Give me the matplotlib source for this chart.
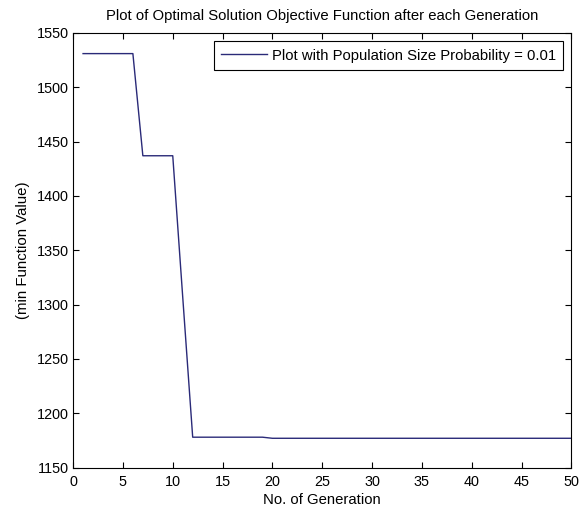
import matplotlib
matplotlib.use("Agg")
import matplotlib.pyplot as plt

generations = list(range(1, 51))
values = ([1531] * 6 + [1437] * 4 + [1307] + [1178] * 8 + [1177] * 31)

plt.rcParams['font.family'] = ['Liberation Sans', 'DejaVu Sans']
fig = plt.figure(figsize=(5.87, 5.15), dpi=100)
ax = fig.add_axes([0.1245, 0.092, 0.849, 0.844])
ax.plot(generations, values, color='#2a2a78', linewidth=1.0,
        label='Plot with Population Size Probability = 0.01')
ax.set_xlim(0, 50)
ax.set_ylim(1150, 1550)
ax.set_xticks(range(0, 51, 5))
ax.set_yticks(range(1150, 1551, 50))
ax.tick_params(axis='both', direction='in', top=True, right=True, labelsize=10.4, length=4)
ax.tick_params(axis='x', pad=5)
ax.tick_params(axis='y', pad=3)
ax.set_title('Plot of Optimal Solution Objective Function after each Generation', fontsize=10.7, pad=9)
ax.set_xlabel('No. of Generation', fontsize=10.7, labelpad=3)
ax.set_ylabel('(min Function Value)', fontsize=10.8, labelpad=5)
leg = ax.legend(loc='upper right', fontsize=10.7, fancybox=False, framealpha=1,
                edgecolor='black', handlelength=3.1, handletextpad=0.3,
                borderpad=0.5, borderaxespad=0.55)
leg.get_frame().set_linewidth(0.8)
fig.savefig('out.png', dpi=100)
